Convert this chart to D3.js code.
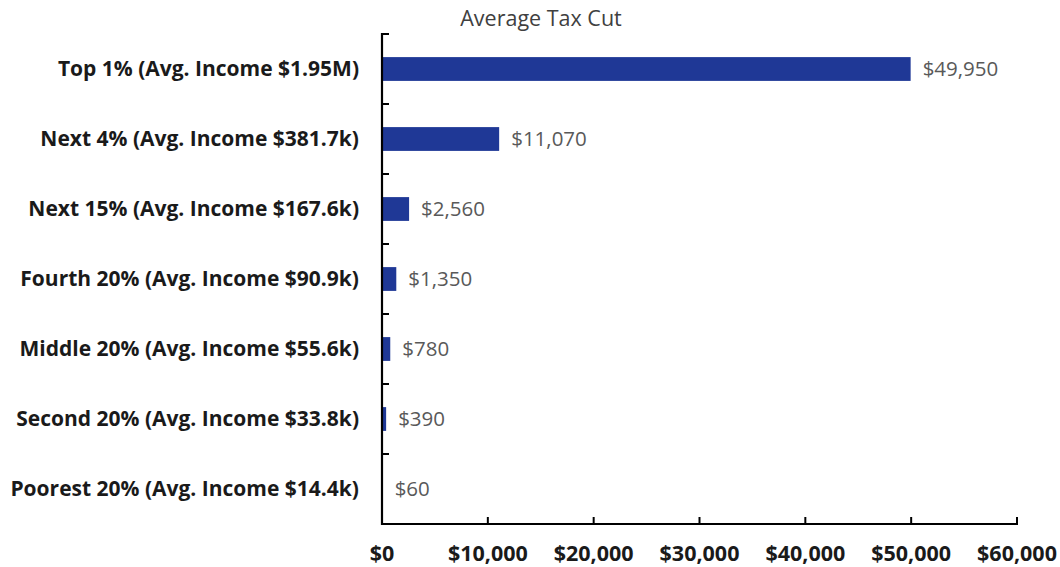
<!DOCTYPE html>
<html><head><meta charset="utf-8">
<script src="https://cdn.jsdelivr.net/npm/d3@7"></script>
<style>body{margin:0;background:#fff}svg{display:block}</style>
</head><body><svg id="c" width="1060" height="567"></svg>
<script>
const categories = ["Top 1% (Avg. Income $1.95M)","Next 4% (Avg. Income $381.7k)","Next 15% (Avg. Income $167.6k)","Fourth 20% (Avg. Income $90.9k)","Middle 20% (Avg. Income $55.6k)","Second 20% (Avg. Income $33.8k)","Poorest 20% (Avg. Income $14.4k)"];
const values = [49950,11070,2560,1350,780,390,60];
const xTicks = [0,10000,20000,30000,40000,50000,60000];
const title = "Average Tax Cut";

const svg = d3.select("#c");
const font = "'Open Sans', 'Liberation Sans', sans-serif";
const x = d3.scaleLinear().domain([0,60000]).range([382,1017]);
const y = d3.scaleBand().domain(categories).range([34,524]).paddingInner(0.66).paddingOuter(0.33);

svg.selectAll("rect.bar").data(values).join("rect").attr("class","bar")
  .attr("x", x(0)).attr("y",(d,i)=>y(categories[i]))
  .attr("width", d=>x(d)-x(0)).attr("height", y.bandwidth())
  .attr("fill","#1f3896");

svg.selectAll("text.val").data(values).join("text").attr("class","val")
  .attr("x", d=>x(d)+12).attr("y",(d,i)=>y(categories[i])+y.bandwidth()/2)
  .attr("dy","0.35em").attr("font-family",font).attr("font-size",20.5).attr("fill","#595959")
  .text(d=>"$"+d3.format(",")(d));

// y axis
const yAxis = svg.append("g");
yAxis.append("line").attr("x1",382).attr("x2",382).attr("y1",33).attr("y2",525).attr("stroke","#000").attr("stroke-width",2.2);
const bounds = d3.range(categories.length+1).map(i=>34+i*490/categories.length);
yAxis.selectAll("line.t").data(bounds.slice(0,-1)).join("line").attr("class","t")
  .attr("x1",382).attr("x2",389).attr("y1",d=>d).attr("y2",d=>d).attr("stroke","#000").attr("stroke-width",2);
yAxis.selectAll("text").data(categories).join("text")
  .attr("x",359).attr("y",d=>y(d)+y.bandwidth()/2).attr("dy","0.35em")
  .attr("text-anchor","end").attr("font-family",font).attr("font-weight","bold").attr("font-size",21).attr("fill","#1a1a1a")
  .text(d=>d);

// x axis
const xAxis = svg.append("g");
xAxis.append("line").attr("x1",381).attr("x2",1018).attr("y1",524).attr("y2",524).attr("stroke","#000").attr("stroke-width",2.2);
xAxis.selectAll("line.t").data(xTicks.slice(1)).join("line").attr("class","t")
  .attr("x1",d=>x(d)).attr("x2",d=>x(d)).attr("y1",524).attr("y2",517).attr("stroke","#000").attr("stroke-width",2);
xAxis.selectAll("text").data(xTicks).join("text")
  .attr("x",d=>x(d)).attr("y",553).attr("dy","0.35em").attr("text-anchor","middle")
  .attr("font-family",font).attr("font-weight","bold").attr("font-size",21.5).attr("fill","#1a1a1a")
  .text(d=>"$"+d3.format(",")(d));

svg.append("text").attr("x",541).attr("y",18).attr("dy","0.35em").attr("text-anchor","middle")
  .attr("font-family",font).attr("font-size",21.5).attr("fill","#404040").text(title);
</script></body></html>
